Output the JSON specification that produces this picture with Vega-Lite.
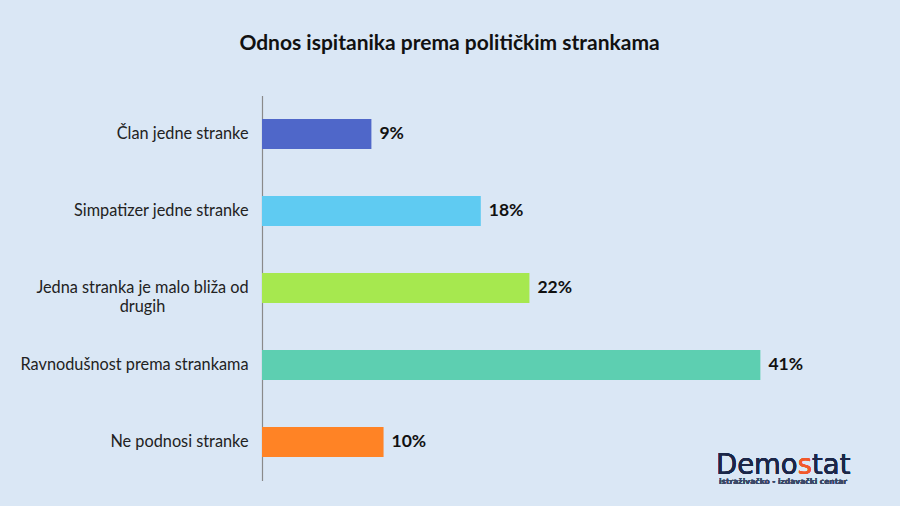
{
  "$schema": "https://vega.github.io/schema/vega-lite/v6.json",
  "autosize": "none",
  "width": 547,
  "height": 385,
  "padding": {"left": 262, "top": 95.5, "right": 91, "bottom": 25.5},
  "background": "#DAE7F5",
  "config": {"view": {"stroke": null}, "font": "Lato"},
  "title": {
    "text": "Odnos ispitanika prema političkim strankama",
    "font": "Lato",
    "fontSize": 21,
    "fontWeight": "bold",
    "color": "#111111",
    "anchor": "middle",
    "frame": "group",
    "dx": -86,
    "offset": 42
  },
  "data": {
    "values": [
      {"kategorija": "Član jedne stranke", "vrednost": 0.09},
      {"kategorija": "Simpatizer jedne stranke", "vrednost": 0.18},
      {"kategorija": "Jedna stranka je malo bliža od drugih", "vrednost": 0.22},
      {"kategorija": "Ravnodušnost prema strankama", "vrednost": 0.41},
      {"kategorija": "Ne podnosi stranke", "vrednost": 0.10}
    ]
  },
  "encoding": {
    "y": {
      "field": "kategorija",
      "type": "nominal",
      "sort": null,
      "scale": {"paddingInner": 0.61, "paddingOuter": 0.305},
      "axis": {
        "title": null,
        "ticks": false,
        "labelPadding": {"condition": {"test": "datum.value == 'Jedna stranka je malo bliža od drugih'", "value": 120}, "value": 14},
        "labelAlign": {"condition": {"test": "datum.value == 'Jedna stranka je malo bliža od drugih'", "value": "center"}, "value": "right"},
        "labelFontSize": 16.3,
        "labelColor": "#222222",
        "labelFont": "Lato",
        "labelLimit": 300,
        "labelLineHeight": 19,
        "domainColor": "#8A8A8A",
        "domainWidth": 1.2,
        "labelExpr": "datum.label == 'Jedna stranka je malo bliža od drugih' ? ['Jedna stranka je malo bliža od', 'drugih'] : datum.label"
      }
    },
    "x": {
      "field": "vrednost",
      "type": "quantitative",
      "scale": {"domain": [0, 0.45], "nice": false},
      "axis": null
    }
  },
  "layer": [
    {
      "mark": {"type": "bar"},
      "encoding": {
        "color": {
          "field": "kategorija",
          "type": "nominal",
          "scale": {
            "domain": ["Član jedne stranke", "Simpatizer jedne stranke", "Jedna stranka je malo bliža od drugih", "Ravnodušnost prema strankama", "Ne podnosi stranke"],
            "range": ["#4F67C9", "#5FCBF2", "#A6E84F", "#5DCFB1", "#FF8325"]
          },
          "legend": null
        }
      }
    },
    {
      "mark": {"type": "text", "align": "left", "baseline": "middle", "dx": 8, "fontSize": 17.5, "fontWeight": "bold", "color": "#111111", "font": "Lato"},
      "encoding": {
        "text": {"field": "vrednost", "type": "quantitative", "format": ".0%"}
      }
    },
    {
      "mark": {"type": "text", "align": "right", "baseline": "alphabetic", "yOffset": 32, "fontSize": 27.5, "font": "DejaVu Sans", "color": "#1B2748", "text": "Demo"},
      "encoding": {
        "x": {"datum": 0.4407},
        "y": {"datum": "Ne podnosi stranke"}
      }
    },
    {
      "mark": {"type": "text", "align": "left", "baseline": "alphabetic", "yOffset": 32, "fontSize": 27.5, "font": "DejaVu Sans", "color": "#F2582A", "text": "s"},
      "encoding": {
        "x": {"datum": 0.4407},
        "y": {"datum": "Ne podnosi stranke"}
      }
    },
    {
      "mark": {"type": "text", "align": "left", "baseline": "alphabetic", "yOffset": 32, "fontSize": 27.5, "font": "DejaVu Sans", "color": "#1B2748", "text": "tat"},
      "encoding": {
        "x": {"datum": 0.45247},
        "y": {"datum": "Ne podnosi stranke"}
      }
    },
    {
      "mark": {"type": "text", "align": "center", "baseline": "alphabetic", "yOffset": 42, "fontSize": 7.5, "fontWeight": "bold", "font": "DejaVu Sans", "color": "#3A4868", "text": "istraživačko - izdavački  centar"},
      "encoding": {
        "x": {"datum": 0.4286},
        "y": {"datum": "Ne podnosi stranke"}
      }
    }
  ]
}
